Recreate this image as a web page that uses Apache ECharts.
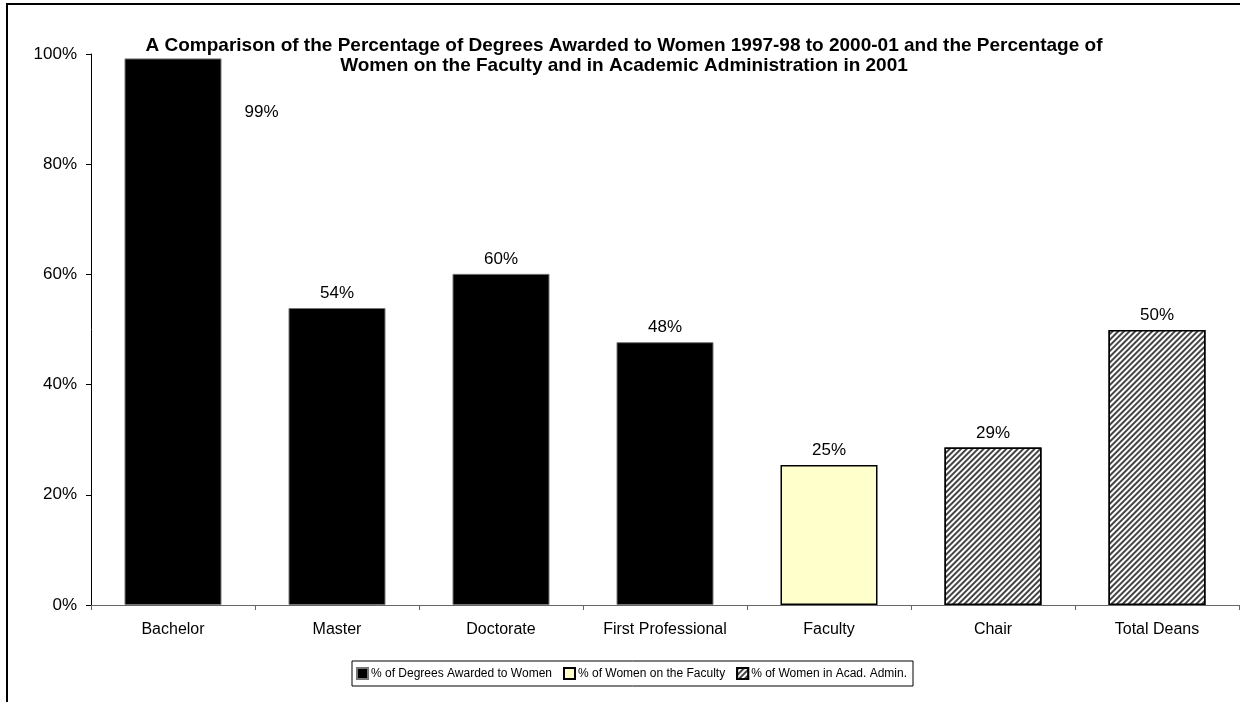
<!DOCTYPE html>
<html>
    <head>
        <meta charset="utf-8">
        <script src="https://cdn.jsdelivr.net/npm/echarts@6/dist/echarts.min.js"></script>
        <style type="text/css">
            #main {height:702px;width:1240px;position:absolute;}
            body {margin:0px;padding:0px;overflow:hidden;background:#fff;}
        </style>
    </head>
    <body>
        <div id="main"></div>
        <script type="text/javascript">
            // data
            let categories = ['Bachelor', 'Master', 'Doctorate', 'First Professional', 'Faculty', 'Chair', 'Total Deans'];
            let seriesNames = ['% of Degrees Awarded to Women', '% of Women on the Faculty', '% of Women in Acad. Admin.'];
            let degreesValues = [99.2, 53.9, 60.1, 47.7, null, null, null];
            let facultyValues = [null, null, null, null, 25.4, null, null];
            let adminValues = [null, null, null, null, null, 28.6, 49.9];
            let yTicks = [0, 20, 40, 60, 80, 100];

            let myChart = echarts.init(document.getElementById('main'));
            let font = 'Liberation Sans, Arial, sans-serif';

            let labelStyle = {
                show: true,
                position: 'top',
                distance: 6,
                fontFamily: font,
                fontSize: 17,
                color: '#000',
                formatter: function (p) { return Math.round(p.value) + '%'; }
            };

            // the Bachelor label sits beside the bar, as in the original
            let degreesData = degreesValues.map(function (v, i) {
                if (i === 0) {
                    return { value: v, label: { position: [120, 45] } };
                }
                return v;
            });

            let option = {
                animation: false,
                backgroundColor: '#fff',
                title: {
                    text: 'A Comparison of the Percentage of Degrees Awarded to Women 1997-98 to 2000-01 and the Percentage of\nWomen on the Faculty and in Academic Administration in 2001',
                    left: 619,
                    textAlign: 'center',
                    top: 31,
                    textStyle: {
                        fontFamily: font,
                        fontSize: 19,
                        fontWeight: 'bold',
                        color: '#000',
                        lineHeight: 20
                    }
                },
                graphic: [{
                    type: 'rect',
                    shape: { x: 7, y: 4, width: 1260, height: 720 },
                    style: { fill: 'none', stroke: '#000', lineWidth: 2 },
                    silent: true
                }],
                legend: {
                    data: seriesNames,
                    icon: 'rect',
                    left: 352,
                    top: 661,
                    itemWidth: 11,
                    itemHeight: 11,
                    itemGap: 11,
                    padding: [6, 6, 6, 4],
                    borderColor: '#000',
                    borderWidth: 1,
                    textStyle: { fontFamily: font, fontSize: 12, color: '#000', padding: [0, 0, 0, -2] }
                },
                grid: { left: 91, right: 1, top: 54, bottom: 97 },
                xAxis: {
                    type: 'category',
                    data: categories,
                    axisLine: { lineStyle: { color: '#666', width: 1 } },
                    axisTick: { show: true, length: 5, lineStyle: { color: '#666' } },
                    axisLabel: { margin: 17, fontFamily: font, fontSize: 16, color: '#000' }
                },
                yAxis: {
                    type: 'value',
                    min: 0,
                    max: 100,
                    interval: 20,
                    splitLine: { show: false },
                    axisLine: { show: true, lineStyle: { color: '#000', width: 1 } },
                    axisTick: { show: true, length: 5, lineStyle: { color: '#000' } },
                    axisLabel: {
                        margin: 14,
                        fontFamily: font,
                        fontSize: 17,
                        color: '#000',
                        formatter: function (v) { return yTicks.indexOf(v) >= 0 ? v + '%' : ''; }
                    }
                },
                series: [
                    {
                        name: seriesNames[0],
                        type: 'bar',
                        stack: 'all',
                        barWidth: 97,
                        data: degreesData,
                        itemStyle: { color: '#000', borderColor: '#777', borderWidth: 1 },
                        label: labelStyle
                    },
                    {
                        name: seriesNames[1],
                        type: 'bar',
                        stack: 'all',
                        barWidth: 97,
                        data: facultyValues,
                        itemStyle: { color: '#ffffcc', borderColor: '#000', borderWidth: 1.5 },
                        label: labelStyle
                    },
                    {
                        name: seriesNames[2],
                        type: 'bar',
                        stack: 'all',
                        barWidth: 97,
                        data: adminValues,
                        itemStyle: {
                            color: '#fff',
                            borderColor: '#000',
                            borderWidth: 1.5,
                            decal: {
                                symbol: 'rect',
                                color: '#444',
                                backgroundColor: '#fff',
                                dashArrayX: [1, 0],
                                dashArrayY: [1.5, 1.5],
                                rotation: -Math.PI / 4
                            }
                        },
                        label: labelStyle
                    }
                ]
            };
            myChart.setOption(option);
            window.onresize = myChart.resize;
        </script>
    </body>
</html>
